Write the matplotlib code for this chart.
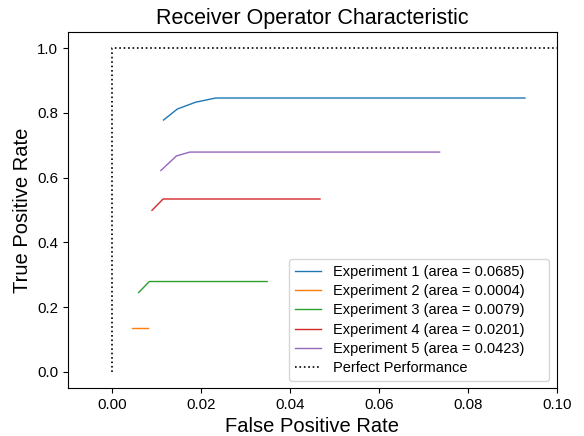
import matplotlib
matplotlib.use('Agg')
import matplotlib.pyplot as plt

plt.rcParams['font.family'] = ['Liberation Sans', 'DejaVu Sans']

# ROC curves
labels = ['Experiment 1 (area = 0.0685)', 'Experiment 2 (area = 0.0004)',
          'Experiment 3 (area = 0.0079)', 'Experiment 4 (area = 0.0201)',
          'Experiment 5 (area = 0.0423)']
fpr = [
    [0.0115, 0.0146, 0.0187, 0.0232, 0.0928],
    [0.0043, 0.0080],
    [0.0059, 0.0083, 0.0348],
    [0.0089, 0.0114, 0.0467],
    [0.0109, 0.0144, 0.0174, 0.0736],
]
tpr = [
    [0.778, 0.812, 0.833, 0.846, 0.846],
    [0.135, 0.135],
    [0.245, 0.279, 0.279],
    [0.499, 0.534, 0.534],
    [0.622, 0.667, 0.679, 0.679],
]
colors = ['#1f77b4', '#ff7f0e', '#2ca02c', '#d62728', '#9467bd']
perfect_x = [0, 0, 1]
perfect_y = [0, 1, 1]

fig = plt.figure(figsize=(5.84, 4.36), dpi=100)
ax = fig.add_axes([0.1164, 0.1101, 0.8373, 0.8165])

for x, y, c, lab in zip(fpr, tpr, colors, labels):
    ax.plot(x, y, color=c, lw=1.0, label=lab)
ax.plot(perfect_x, perfect_y, 'k:', lw=1.2, label='Perfect Performance')

ax.set_xlim(-0.01, 0.1)
ax.set_ylim(-0.05, 1.05)
ax.set_xticks([0.0, 0.02, 0.04, 0.06, 0.08, 0.10])
ax.set_yticks([0.0, 0.2, 0.4, 0.6, 0.8, 1.0])
ax.tick_params(labelsize=10.8, length=3.5, direction='out')
ax.set_xlabel('False Positive Rate', fontsize=14.5)
ax.set_ylabel('True Positive Rate', fontsize=14.5)
ax.set_title('Receiver Operator Characteristic', fontsize=15.5)
# wider box than the text needs, like the original
ax.legend(loc='lower left', bbox_to_anchor=(0.452, 0.0197, 0.532, 0.33),
          mode='expand', borderaxespad=0, fontsize=10.5,
          labelspacing=0.36, handlelength=1.8)

fig.savefig('out.png', dpi=100)
